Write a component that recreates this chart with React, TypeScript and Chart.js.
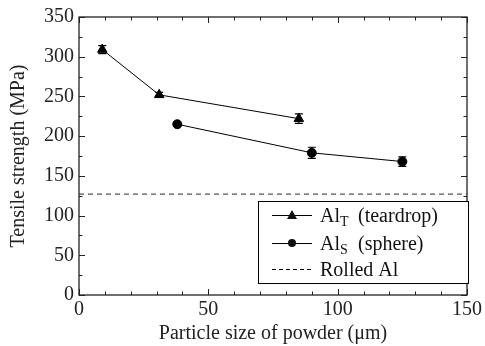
import React, { useEffect, useRef } from "react";
import { Chart, registerables } from "chart.js";

Chart.register(...registerables);

const teardropX = [9, 31, 85];
const teardropY = [309, 252, 222];
const teardropErr = [5, 3, 6];
const sphereX = [38, 90, 125];
const sphereY = [215, 179, 168];
const sphereErr = [2, 7, 6];
const rolledY = 127;
const xRange = [0, 150];
const yRange = [0, 350];
const legendLabels = [
  { main: "Al", sub: "T", rest: "(teardrop)" },
  { main: "Al", sub: "S", rest: "(sphere)" },
  { main: "Rolled Al", sub: "", rest: "" },
];

const FONT = "'Liberation Serif', 'DejaVu Serif', serif";

export default function App() {
  const ref = useRef<HTMLCanvasElement | null>(null);
  useEffect(() => {
    document.body.style.margin = "0";
    const canvas = ref.current!;
    const framePlugin = {
      id: "frame",
      afterDatasetsDraw(chart: any) {
        const ctx = chart.ctx;
        const xs = chart.scales.x;
        const ys = chart.scales.y;
        ctx.save();
        ctx.strokeStyle = "#000";
        ctx.lineWidth = 1.2;
        const drawErr = (xv: number[], yv: number[], ev: number[]) => {
          xv.forEach((x, i) => {
            const px = xs.getPixelForValue(x);
            const y1 = ys.getPixelForValue(yv[i] + ev[i]);
            const y2 = ys.getPixelForValue(yv[i] - ev[i]);
            ctx.beginPath();
            ctx.moveTo(px, y1);
            ctx.lineTo(px, y2);
            ctx.moveTo(px - 4, y1);
            ctx.lineTo(px + 4, y1);
            ctx.moveTo(px - 4, y2);
            ctx.lineTo(px + 4, y2);
            ctx.stroke();
          });
        };
        drawErr(teardropX, teardropY, teardropErr);
        drawErr(sphereX, sphereY, sphereErr);
        ctx.restore();
      },
      afterDraw(chart: any) {
        const ctx = chart.ctx;
        const xs = chart.scales.x;
        const ys = chart.scales.y;
        const { left, right, top, bottom } = chart.chartArea;
        ctx.save();
        ctx.strokeStyle = "#222";
        ctx.lineWidth = 1;
        ctx.beginPath();
        for (let v = xRange[0]; v <= xRange[1]; v += 10) {
          const px = Math.round(xs.getPixelForValue(v)) + 0.5;
          const len = v % 50 === 0 ? 6 : 3.5;
          ctx.moveTo(px, bottom);
          ctx.lineTo(px, bottom - len);
          ctx.moveTo(px, top);
          ctx.lineTo(px, top + len);
        }
        for (let v = yRange[0]; v <= yRange[1]; v += 25) {
          const py = Math.round(ys.getPixelForValue(v)) + 0.5;
          const len = v % 50 === 0 ? 6 : 3.5;
          ctx.moveTo(left, py);
          ctx.lineTo(left + len, py);
          ctx.moveTo(right, py);
          ctx.lineTo(right - len, py);
        }
        ctx.stroke();
        ctx.lineWidth = 1.3;
        ctx.strokeRect(left, top, right - left, bottom - top);

        // legend
        const bx = 258, by = 201, bw = 210, bh = 82;
        ctx.fillStyle = "#fff";
        ctx.fillRect(bx, by, bw, bh);
        ctx.lineWidth = 1;
        ctx.strokeStyle = "#000";
        ctx.strokeRect(bx + 0.5, by + 0.5, bw, bh);
        const rows = [215, 243, 269];
        const lx1 = 272, lx2 = 312, mx = 292, tx = 320;
        ctx.textBaseline = "alphabetic";
        ctx.textAlign = "left";
        rows.forEach((ry, i) => {
          ctx.strokeStyle = "#000";
          ctx.fillStyle = "#111";
          ctx.lineWidth = 1;
          ctx.beginPath();
          if (i === 2) ctx.setLineDash([4, 3]);
          ctx.moveTo(lx1, ry + 0.5);
          ctx.lineTo(lx2, ry + 0.5);
          ctx.stroke();
          ctx.setLineDash([]);
          if (i === 0) {
            ctx.beginPath();
            ctx.moveTo(mx, ry - 5);
            ctx.lineTo(mx + 5, ry + 4);
            ctx.lineTo(mx - 5, ry + 4);
            ctx.closePath();
            ctx.fill();
          } else if (i === 1) {
            ctx.beginPath();
            ctx.arc(mx, ry, 4, 0, Math.PI * 2);
            ctx.fill();
          }
          const lab = legendLabels[i];
          const base = ry + 7;
          ctx.font = `20px ${FONT}`;
          ctx.fillText(lab.main, tx, base);
          if (lab.sub) {
            const w = ctx.measureText(lab.main).width;
            ctx.font = `14px ${FONT}`;
            ctx.fillText(lab.sub, tx + w, base + 4);
            ctx.font = `20px ${FONT}`;
            ctx.fillText(lab.rest, 358, base);
          }
        });
        ctx.restore();
      },
    };

    const chart = new Chart(canvas, {
      type: "scatter",
      data: {
        datasets: [
          {
            label: "teardrop",
            data: teardropX.map((x, i) => ({ x, y: teardropY[i] })),
            showLine: true,
            borderColor: "#000",
            backgroundColor: "#000",
            borderWidth: 1,
            pointStyle: "triangle",
            pointRadius: 5.5,
          },
          {
            label: "sphere",
            data: sphereX.map((x, i) => ({ x, y: sphereY[i] })),
            showLine: true,
            borderColor: "#000",
            backgroundColor: "#000",
            borderWidth: 1,
            pointStyle: "circle",
            pointRadius: 4.5,
          },
          {
            label: "rolled",
            data: [
              { x: xRange[0], y: rolledY },
              { x: xRange[1], y: rolledY },
            ],
            showLine: true,
            borderColor: "#555",
            borderWidth: 1.2,
            borderDash: [5, 4],
            pointRadius: 0,
          },
        ],
      },
      options: {
        animation: false,
        responsive: false,
        layout: { padding: { top: 16, right: 16, left: 0, bottom: 0 } },
        plugins: { legend: { display: false }, tooltip: { enabled: false } },
        scales: {
          x: {
            type: "linear",
            min: xRange[0],
            max: xRange[1],
            grid: { display: false, drawTicks: false },
            border: { display: false },
            ticks: {
              stepSize: 50,
              color: "#222",
              padding: 3,
              font: { family: FONT, size: 20 },
            },
            title: {
              display: true,
              text: "Particle size of powder (μm)",
              color: "#222",
              font: { family: FONT, size: 20 },
              padding: { top: 0, bottom: 0 },
            },
            afterFit(scale: any) {
              scale.height = 51;
            },
          },
          y: {
            type: "linear",
            min: yRange[0],
            max: yRange[1],
            grid: { display: false, drawTicks: false },
            border: { display: false },
            ticks: {
              stepSize: 50,
              color: "#222",
              padding: 5,
              font: { family: FONT, size: 20 },
            },
            title: {
              display: true,
              text: "Tensile strength (MPa)",
              color: "#222",
              font: { family: FONT, size: 20 },
              padding: { top: 7, bottom: 0 },
            },
            afterFit(scale: any) {
              scale.width = 79;
            },
          },
        },
      },
      plugins: [framePlugin],
    } as any);
    return () => chart.destroy();
  }, []);
  return (
    <div style={{ width: 485, height: 346 }}>
      <canvas ref={ref} width={485} height={346} />
    </div>
  );
}
